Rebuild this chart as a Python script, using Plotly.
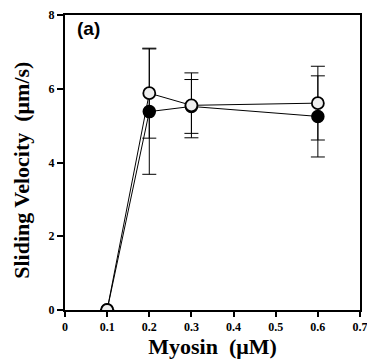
import plotly.graph_objects as go

myosin = [0.1, 0.2, 0.3, 0.6]
open_v = [0.0, 5.88, 5.55, 5.61]
open_err = [0.0, 1.22, 0.88, 1.0]
filled_v = [0.0, 5.38, 5.52, 5.25]
filled_err = [0.0, 1.7, 0.73, 1.1]
x_ticks = [0, 0.1, 0.2, 0.3, 0.4, 0.5, 0.6, 0.7]
y_ticks = [0, 2, 4, 6, 8]

serif = "Liberation Serif"

fig = go.Figure()
fig.add_trace(go.Scatter(
    x=myosin, y=filled_v, mode="lines+markers",
    line=dict(color="black", width=1),
    marker=dict(symbol="circle", size=12, color="black", line=dict(color="black", width=1.5)),
    error_y=dict(type="data", array=filled_err, visible=True, color="black", thickness=1, width=7),
    showlegend=False,
))
fig.add_trace(go.Scatter(
    x=myosin, y=open_v, mode="lines+markers",
    line=dict(color="black", width=1),
    marker=dict(symbol="circle", size=12, color="#eeeeee", line=dict(color="black", width=1.8)),
    error_y=dict(type="data", array=open_err, visible=True, color="black", thickness=1, width=7),
    showlegend=False,
))

fig.add_annotation(text="<b>(a)</b>", x=0.035, y=0.995, xref="paper", yref="paper", showarrow=False,
                   font=dict(family="Liberation Sans", size=19, color="black"),
                   xanchor="left", yanchor="top")
fig.add_annotation(text="<b>Sliding Velocity  (μm/s)</b>", x=-0.146, y=0.475,
                   xref="paper", yref="paper", showarrow=False, textangle=-90,
                   font=dict(family=serif, size=22, color="black"),
                   xanchor="center", yanchor="middle")

fig.update_layout(
    width=367, height=352,
    margin=dict(l=57, r=15, t=7, b=50),
    plot_bgcolor="white", paper_bgcolor="white",
    font=dict(family=serif, color="black"),
    xaxis=dict(
        range=[0, 0.7], tickvals=x_ticks, ticktext=[f"<b>{v:g}</b>" for v in x_ticks],
        ticks="outside", ticklen=5, tickwidth=1.5, tickcolor="black",
        showline=True, linecolor="black", linewidth=2, mirror=True,
        showgrid=False, zeroline=False, automargin=False,
        tickfont=dict(family=serif, size=12),
        title=dict(text="<b>Myosin  (μM)</b>", font=dict(family=serif, size=22), standoff=3),
    ),
    yaxis=dict(
        range=[0, 8], tickvals=y_ticks, ticktext=[f"<b>{v}</b>" for v in y_ticks],
        ticks="outside", ticklen=6, tickwidth=1.5, tickcolor="black",
        showline=True, linecolor="black", linewidth=2, mirror=True,
        showgrid=False, zeroline=False, automargin=False,
        tickfont=dict(family=serif, size=12),
    ),
)

fig.write_html("out.html")
